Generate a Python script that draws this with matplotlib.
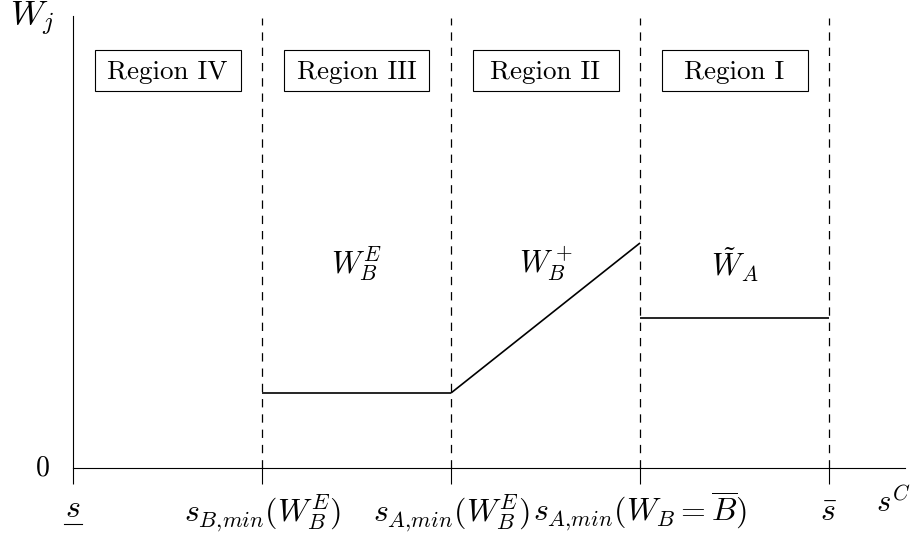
import matplotlib
matplotlib.use('Agg')
import matplotlib.pyplot as plt
from matplotlib.patches import Rectangle

plt.rcParams['mathtext.fontset'] = 'cm'
plt.rcParams['font.family'] = ['cmr10', 'DejaVu Serif']
plt.rcParams['axes.formatter.use_mathtext'] = True
plt.rcParams['lines.scale_dashes'] = False

# threshold positions on the s^C axis and their labels
thresholds = [0, 1, 2, 3, 4]
threshold_labels = [r'$s$', r'$s_{B{,}min}(W_B^E)$', r'$s_{A{,}min}(W_B^E)$',
                    r'$s_{A{,}min}(W_B=\overline{B})$', r'$\bar{s}$']

# region names, one per interval between thresholds
regions = ['Region IV', 'Region III', 'Region II', 'Region I']
region_mid = [0.5, 1.5, 2.5, 3.5]

# welfare segments (x start/end, y start/end)
seg_x = [[1, 2], [2, 3], [3, 4]]
seg_y = [[1, 1], [1, 3], [2, 2]]
seg_names = [r'$W_B^E$', r'$W_B^+$', r'$\tilde{W}_A$']
seg_label_x = [1.5, 2.5, 3.5]
seg_label_y = [2.6, 2.6, 2.55]

FS = 19.5
FSM = 22

fig = plt.figure(figsize=(9.23, 5.37), dpi=100)
ax = fig.add_axes([73 / 923, 69 / 537, 831.6 / 923, 452.25 / 537])
ax.set_xlim(0, 4.4)
ax.set_ylim(0, 6.03)

for s in ['top', 'right']:
    ax.spines[s].set_visible(False)
for s in ['left', 'bottom']:
    ax.spines[s].set_linewidth(0.8)
    ax.spines[s].set_color('black')

ax.set_xticks(thresholds)
ax.set_xticklabels([])
ax.tick_params(axis='x', direction='out', length=11.5, width=0.8, color='black')
ax.set_yticks([])

# dashed region boundaries
for xv in thresholds[1:]:
    ax.plot([xv, xv], [0, 6.0], color='black', lw=0.9,
            linestyle=(0, (6, 5)), clip_on=False)

# welfare curve
for xs, ys in zip(seg_x, seg_y):
    ax.plot(xs, ys, color='black', lw=1.2, clip_on=False, solid_capstyle='butt')

for xm, ym, name in zip(seg_label_x, seg_label_y, seg_names):
    ax.text(xm, ym, name, fontsize=FSM, ha='center', va='baseline')

# region boxes
box_w = 146 / 189
box_h = 41 / 75
box_y = 5.3
for xm, name in zip(region_mid, regions):
    ax.add_patch(Rectangle((xm - box_w / 2, box_y - box_h / 2), box_w, box_h,
                           fill=False, edgecolor='black', lw=0.8, clip_on=False))
    ax.text(xm, box_y - 0.02, name, fontsize=FS, ha='center', va='center')

# axis labels
for xv, lab in zip(thresholds, threshold_labels):
    yb = -0.653 if xv == thresholds[0] else -0.707
    ax.text(xv, yb, lab, fontsize=23, ha='center', va='baseline', clip_on=False)
# underline of the lower bound s
ax.plot([thresholds[0] - 0.045, thresholds[0] + 0.045], [-0.74, -0.74],
        color='black', lw=0.8, clip_on=False)
ax.text(-0.164, 0, r'$0$', fontsize=20, ha='center', va='center')
ax.text(4.34, -0.59, r'$s^C$', fontsize=FSM, ha='center', va='baseline')
ax.text(-0.217, 5.9, r'$W_j$', fontsize=25, ha='center', va='baseline')

fig.savefig('out.png', dpi=100)
